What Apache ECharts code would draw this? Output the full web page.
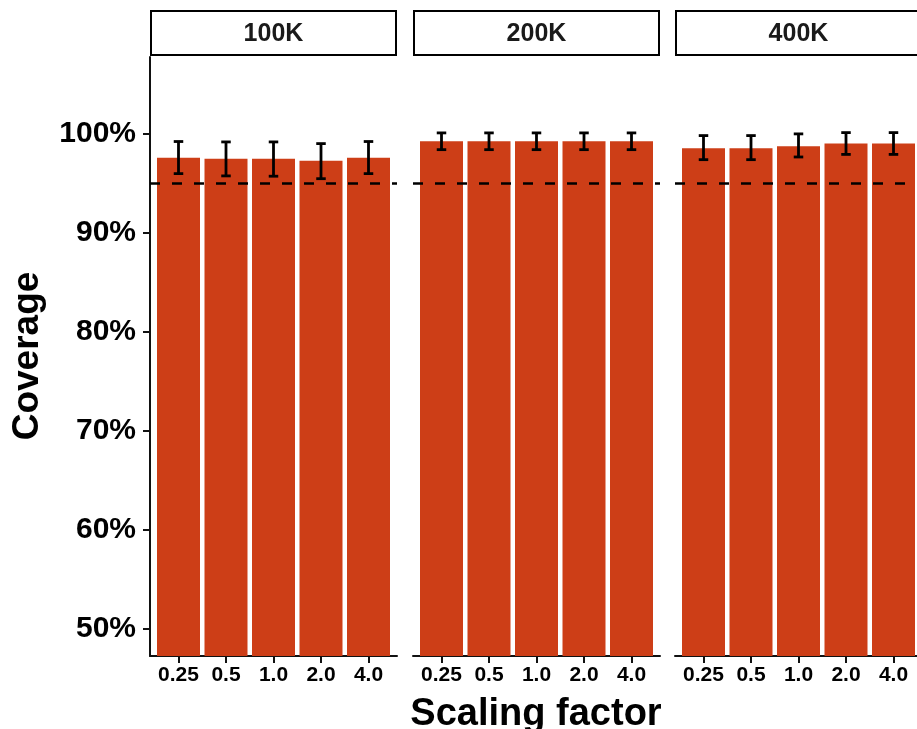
<!DOCTYPE html>
<html>
<head>
<meta charset="utf-8">
<script src="https://cdn.jsdelivr.net/npm/echarts@6/dist/echarts.min.js"></script>
<style>
html,body{margin:0;padding:0;background:#fff;}
#chart{width:917px;height:729px;}
</style>
</head>
<body>
<div id="chart"></div>
<script>
// ---- data ----
const categories = ['0.25', '0.5', '1.0', '2.0', '4.0'];
const panelLabels = ['100K', '200K', '400K'];
const coverage100K = [97.55, 97.45, 97.45, 97.25, 97.55];
const lower100K    = [95.96, 95.73, 95.70, 95.45, 95.96];
const upper100K    = [99.20, 99.16, 99.16, 98.99, 99.20];
const coverage200K = [99.22, 99.22, 99.22, 99.22, 99.22];
const lower200K    = [98.38, 98.38, 98.38, 98.38, 98.38];
const upper200K    = [100.07, 100.07, 100.07, 100.07, 100.07];
const coverage400K = [98.52, 98.52, 98.72, 98.99, 98.99];
const lower400K    = [97.37, 97.37, 97.64, 97.90, 97.90];
const upper400K    = [99.80, 99.80, 99.97, 100.10, 100.10];
const yTicks = [50, 60, 70, 80, 90, 100];
const nominalLevel = 95;

// ---- layout ----
const FONT = 'Liberation Sans';
const CANVAS_W = 917;
const panelLeft = [150, 413, 675];
const panelWidth = 247;
const xPad = 0.6;
const unitPx = panelWidth / (categories.length - 1 + 2 * xPad);
const gridTop = 57, gridHeight = 599;
const yMin = 47.28, yMax = 107.73;
const barColor = '#CD3E17';

const coverageSets = [coverage100K, coverage200K, coverage400K];
const lowerSets = [lower100K, lower200K, lower400K];
const upperSets = [upper100K, upper200K, upper400K];
const catIdx = categories.map((c, i) => i);

const grids = [], xAxes = [], yAxes = [], series = [], graphics = [];

panelLabels.forEach((lab, p) => {
  // the last panel is cut off by the picture's right edge
  const w = Math.min(panelWidth, CANVAS_W - panelLeft[p]);
  const xMax = -xPad + w / unitPx;
  grids.push({left: panelLeft[p], top: gridTop, width: w, height: gridHeight, containLabel: false});
  xAxes.push({
    type: 'value', gridIndex: p, min: -xPad, max: xMax,
    splitLine: {show: false},
    axisLine: {show: true, lineStyle: {color: '#111', width: 2}},
    axisTick: {show: true, customValues: catIdx, length: 7, lineStyle: {color: '#111', width: 2}},
    axisLabel: {show: true, customValues: catIdx, formatter: v => categories[Math.round(v)],
      color: '#000', fontFamily: FONT, fontWeight: 'bold', fontSize: 21, margin: 9}
  });
  yAxes.push({
    type: 'value', gridIndex: p, min: yMin, max: yMax,
    splitLine: {show: false},
    axisLine: {show: p === 0, onZero: false, lineStyle: {color: '#111', width: 2}},
    axisTick: {show: p === 0, customValues: yTicks, length: 7, lineStyle: {color: '#111', width: 2}},
    axisLabel: {show: p === 0, customValues: yTicks, formatter: v => v + '%',
      color: '#000', fontFamily: FONT, fontWeight: 'bold', fontSize: 30, margin: 14}
  });
  series.push({
    type: 'bar', xAxisIndex: p, yAxisIndex: p, barWidth: 43, clip: true,
    itemStyle: {color: barColor},
    data: coverageSets[p].map((v, i) => [i, v]),
    markLine: {
      silent: true, symbol: 'none', label: {show: false},
      lineStyle: {color: '#000', width: 2.5, type: [10, 12]},
      data: [{yAxis: nominalLevel}],
      z: 5
    }
  });
  series.push({
    type: 'custom', xAxisIndex: p, yAxisIndex: p, z: 10,
    data: catIdx.map(i => [i, lowerSets[p][i], upperSets[p][i]]),
    encode: {x: 0, y: [1, 2]},
    renderItem: function (params, api) {
      const x = api.value(0), lo = api.value(1), hi = api.value(2);
      const top = api.coord([x, hi]);
      const bot = api.coord([x, lo]);
      const half = api.coord([x + 0.1, hi])[0] - top[0];
      const st = {stroke: '#000', lineWidth: 2.8};
      return {type: 'group', children: [
        {type: 'line', shape: {x1: top[0], y1: top[1], x2: bot[0], y2: bot[1]}, style: st},
        {type: 'line', shape: {x1: top[0] - half, y1: top[1], x2: top[0] + half, y2: top[1]}, style: st},
        {type: 'line', shape: {x1: bot[0] - half, y1: bot[1], x2: bot[0] + half, y2: bot[1]}, style: st}
      ]};
    }
  });
  // strip header
  graphics.push({
    type: 'rect', shape: {x: panelLeft[p] + 1, y: 11, width: panelWidth - 2, height: 44},
    style: {fill: '#fff', stroke: '#000', lineWidth: 2}
  });
  graphics.push({
    type: 'text', x: panelLeft[p] + panelWidth / 2, y: 34,
    style: {text: lab, align: 'center', verticalAlign: 'middle', fill: '#1a1a1a',
      font: 'bold 25px "' + FONT + '"'}
  });
});

graphics.push({
  type: 'text', x: 28, y: 356, rotation: Math.PI / 2,
  style: {text: 'Coverage', align: 'center', verticalAlign: 'middle', fill: '#000',
    font: 'bold 37px "' + FONT + '"'}
});
graphics.push({
  type: 'text', x: 536, y: 715,
  style: {text: 'Scaling factor', align: 'center', verticalAlign: 'middle', fill: '#000',
    font: 'bold 38px "' + FONT + '"'}
});

const chart = echarts.init(document.getElementById('chart'), null, {renderer: 'canvas'});
chart.setOption({
  animation: false,
  backgroundColor: '#fff',
  grid: grids, xAxis: xAxes, yAxis: yAxes, series: series,
  graphic: graphics
});
</script>
</body>
</html>
